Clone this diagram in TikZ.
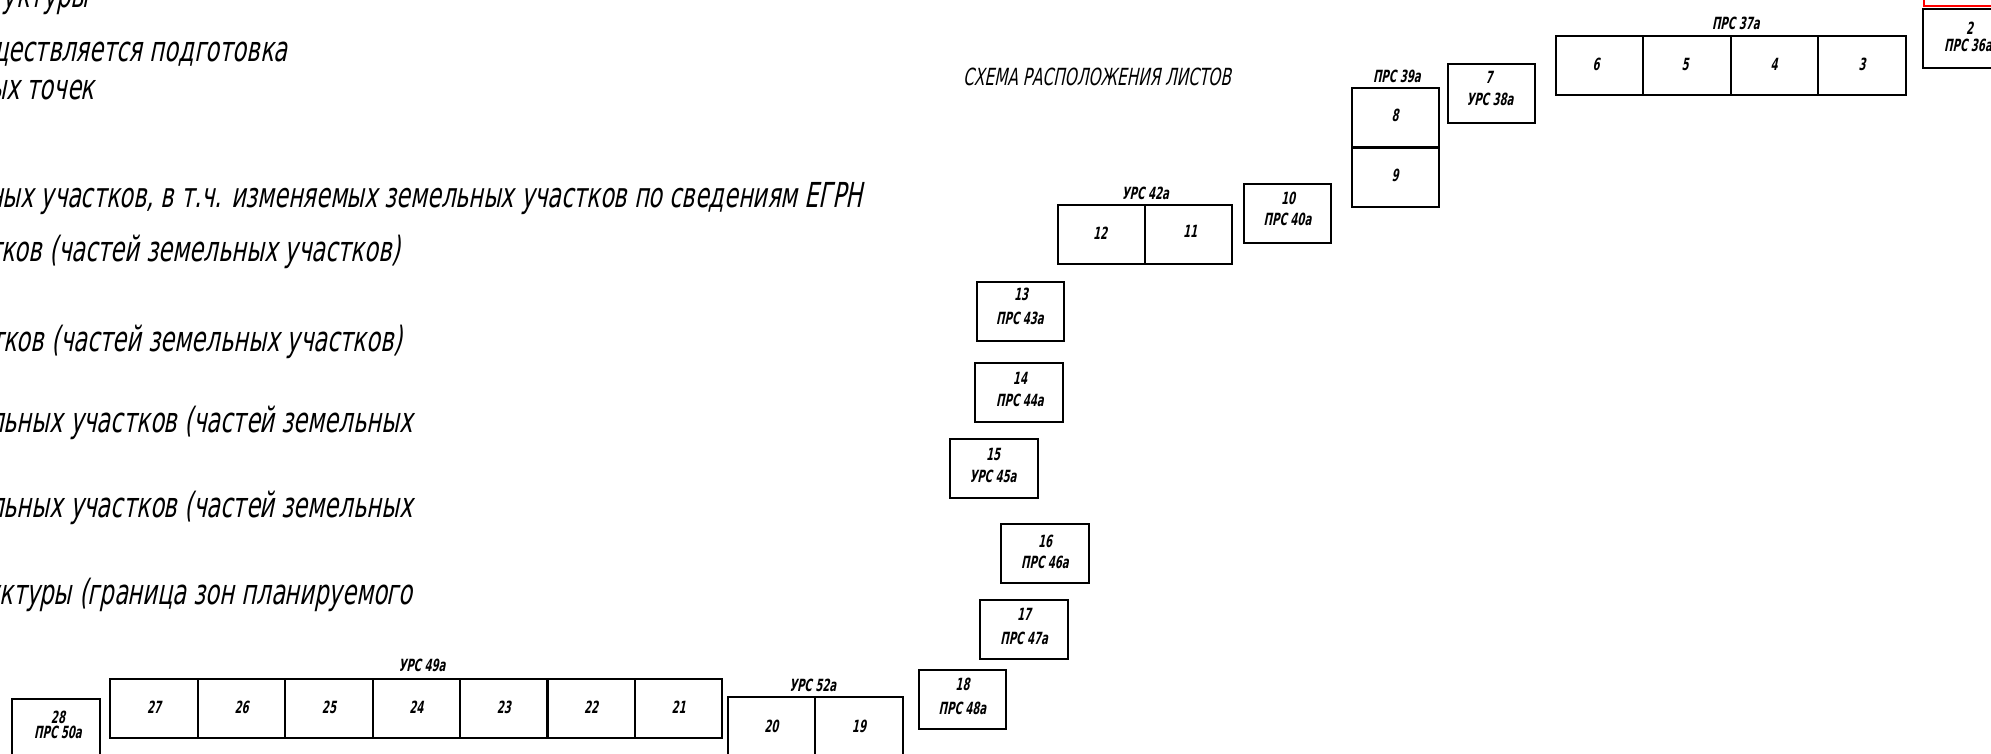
\documentclass[tikz,border=0pt]{standalone}
\usepackage{fontspec}
\newfontfamily\gostL{DejaVu Sans}[FakeStretch=0.65,FakeSlant=0.2]
\newfontfamily\gostB{DejaVu Sans}[FakeStretch=0.6,FakeSlant=0.2]
\tikzset{
  sheet/.style={draw, line width=1pt, minimum width=43.75pt, minimum height=29.5pt, inner sep=0pt, anchor=center},
  lbl/.style={inner sep=0pt, anchor=center, font=\gostB\bfseries\fontsize{8.4}{10}\selectfont},
  big/.style={inner sep=0pt, anchor=base east, font=\gostL\fontsize{17.4}{20}\selectfont},
  ttl/.style={inner sep=0pt, anchor=center, font=\gostL\fontsize{11.8}{14}\selectfont}
}
\begin{document}
\begin{tikzpicture}[x=0.5pt,y=-0.5pt]
\useasboundingbox (0,0) rectangle (1991,754);
\clip (0,0) rectangle (1991,754);
\fill[white] (0,0) rectangle (1991,754);
% left explanatory text (cut at the left edge)
\node[big] (t1) at (89,7.6) {уктуры};
\node[big] (t2) at (288,62) {ществляется подготовка};
\node[big] (t3) at (95,100) {ых точек};
\node[big, font=\gostL\fontsize{17.2}{20}\selectfont] (t4) at (863,208) {ных участков, в т.ч. изменяемых земельных участков по сведениям ЕГРН};
\node[big] (t5) at (401,262) {тков (частей земельных участков)};
\node[big] (t6) at (403,351) {тков (частей земельных участков)};
\node[big] (t7) at (413,432) {льных участков (частей земельных};
\node[big] (t8) at (413,517) {льных участков (частей земельных};
\node[big] (t9) at (413,604) {уктуры (граница зон планируемого};
% title
\node[ttl] (title) at (1097,77) {СХЕМА РАСПОЛОЖЕНИЯ ЛИСТОВ};
% sheet 28
\node[sheet] (b28) at (55.9,728) {};
\node[lbl] (b28a) at (58,717.5) {28};
\node[lbl] (b28b) at (58,732.7) {ПРС 50а};
% row 27-21
\node[lbl] (g49) at (422,665.4) {УРС 49а};
\node[sheet] (b27) at (154.2,708.5) {};
\node[sheet] (b26) at (241.6,708.5) {};
\node[sheet] (b25) at (329.0,708.5) {};
\node[sheet] (b24) at (416.4,708.5) {};
\node[sheet] (b23) at (503.8,708.5) {};
\node[sheet] (b22) at (591.2,708.5) {};
\node[sheet] (b21) at (678.6,708.5) {};
\node[lbl] (n27) at (154.2,707.3) {27};
\node[lbl] (n26) at (241.6,707.3) {26};
\node[lbl] (n25) at (329.0,707.3) {25};
\node[lbl] (n24) at (416.4,707.3) {24};
\node[lbl] (n23) at (503.8,707.3) {23};
\node[lbl] (n22) at (591.2,707.3) {22};
\node[lbl] (n21) at (678.6,707.3) {21};
% 20-19
\node[lbl] (g52) at (812.7,685.7) {УРС 52а};
\node[sheet] (b20) at (771.4,726.6) {};
\node[sheet] (b19) at (859.0,726.6) {};
\node[lbl] (n20) at (771.4,726) {20};
\node[lbl] (n19) at (859.0,726) {19};
% 18
\node[sheet] (b18) at (962.5,699) {};
\node[lbl] (b18a) at (962.5,684.4) {18};
\node[lbl] (b18b) at (962.5,708.6) {ПРС 48а};
% 17
\node[sheet] (b17) at (1024.1,629.2) {};
\node[lbl] (b17a) at (1024.1,614.6) {17};
\node[lbl] (b17b) at (1024.1,638.7) {ПРС 47а};
% 16
\node[sheet] (b16) at (1045.0,553) {};
\node[lbl] (b16a) at (1045.0,541) {16};
\node[lbl] (b16b) at (1045.0,562.5) {ПРС 46а};
% 15
\node[sheet] (b15) at (994.2,468.6) {};
\node[lbl] (b15a) at (993,454.6) {15};
\node[lbl] (b15b) at (993,476.2) {УРС 45а};
% 14
\node[sheet] (b14) at (1019.0,392.4) {};
\node[lbl] (b14a) at (1020,378.4) {14};
\node[lbl] (b14b) at (1020,400) {ПРС 44а};
% 13
\node[sheet] (b13) at (1020.3,311.1) {};
\node[lbl] (b13a) at (1021,294.6) {13};
\node[lbl] (b13b) at (1020,318.7) {ПРС 43а};
% 12-11
\node[lbl] (g42) at (1145.4,193) {УРС 42а};
\node[sheet] (b12) at (1101.6,234.9) {};
\node[sheet] (b11) at (1188.5,234.9) {};
\node[lbl] (n12) at (1100,233.6) {12};
\node[lbl] (n11) at (1190,231) {11};
% 10
\node[sheet] (b10) at (1287.5,213.3) {};
\node[lbl] (b10a) at (1288,198.1) {10};
\node[lbl] (b10b) at (1287.5,219.7) {ПРС 40а};
% 8-9
\node[lbl] (g39) at (1396.8,76.2) {ПРС 39а};
\node[sheet] (b8) at (1395.5,117.5) {};
\node[sheet] (b9) at (1395.5,177.2) {};
\node[lbl] (n8) at (1395,115.6) {8};
\node[lbl] (n9) at (1395,175.2) {9};
% 7
\node[sheet] (b7) at (1491.4,94) {};
\node[lbl] (b7a) at (1489,77.5) {7};
\node[lbl] (b7b) at (1490,99) {УРС 38а};
% 6-3
\node[lbl] (g37) at (1735.8,22.9) {ПРС 37а};
\node[sheet] (b6) at (1599.4,66) {};
\node[sheet] (b5) at (1687.0,66) {};
\node[sheet] (b4) at (1774.5,66) {};
\node[sheet] (b3) at (1862.0,66) {};
\node[lbl] (n6) at (1596,64.8) {6};
\node[lbl] (n5) at (1685,64.8) {5};
\node[lbl] (n4) at (1774,64.8) {4};
\node[lbl] (n3) at (1862,64.8) {3};
% 2
\node[sheet] (b2) at (1966.5,39) {};
\node[lbl] (b2a) at (1969.5,28) {2};
\node[lbl] (b2b) at (1968,45) {ПРС 36а};
% red frame at the top right corner
\draw[red, line width=1pt] (1923.5,-20) rectangle (2060,6.5);
\end{tikzpicture}
\end{document}
